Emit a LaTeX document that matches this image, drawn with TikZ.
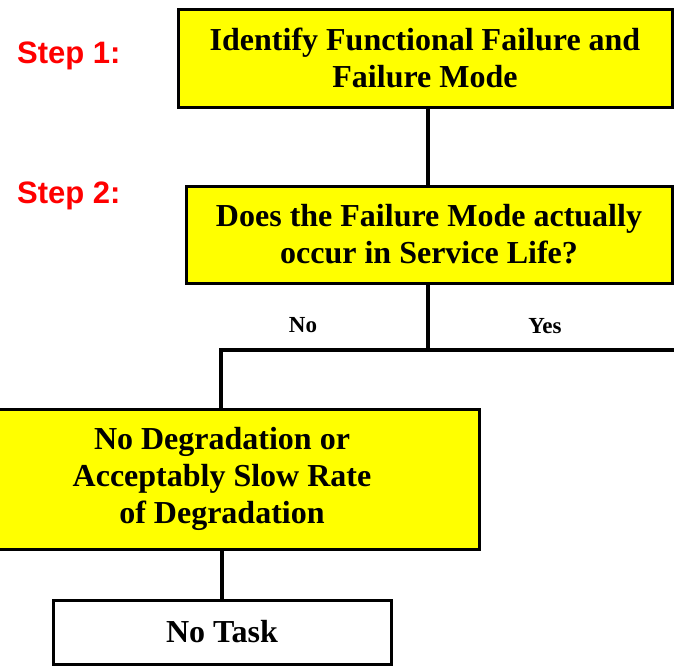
\documentclass[tikz,border=0pt]{standalone}
\usepackage{fontspec}
\setmainfont{Liberation Serif}
\newfontfamily\stepfont{Liberation Sans}
\definecolor{boxyellow}{RGB}{255,255,0}
\definecolor{stepred}{RGB}{255,0,0}
\begin{document}
\begin{tikzpicture}[x=1pt,y=-1pt,
  box/.style={draw=black,line width=3pt,rectangle,inner sep=0pt,align=center,
    font=\fontsize{32}{37}\selectfont\bfseries},
  ybox/.style={box,fill=boxyellow},
  wbox/.style={box,fill=white},
  conn/.style={line width=4pt},
  steplbl/.style={font=\stepfont\fontsize{31}{34}\selectfont\bfseries,text=stepred,anchor=base west,inner sep=0pt},
  lbl/.style={font=\fontsize{23}{26}\selectfont\bfseries,anchor=base,inner sep=0pt}]
\useasboundingbox (0,0) rectangle (674,667);
\clip (0,0) rectangle (674,667);
\node[ybox,minimum width=494pt,minimum height=98pt] (b1) at (425,58) {Identify Functional Failure and\\Failure Mode};
\node[ybox,minimum width=486pt,minimum height=97pt] (b2) at (429,234.5) {Does the Failure Mode actually\\occur in Service Life?};
\node[ybox,minimum width=514pt,minimum height=140pt] (b3) at (222,479) {No Degradation or\\Acceptably Slow Rate\\of Degradation};
\node[wbox,minimum width=338pt,minimum height=64pt] (b4) at (222,632) {No Task};
\node[steplbl] (s1) at (17,63) {Step 1:};
\node[steplbl] (s2) at (17,203) {Step 2:};
\node[lbl] (no) at (303,332) {No};
\node[lbl] (yes) at (545,333) {Yes};
\coordinate (j) at (428,350);
\coordinate (jl) at (221,350);
\coordinate (jr) at (680,350);
\draw[conn] (b1.south -| j) -- (b2.north -| j);
\draw[conn] (b2.south -| j) -- (j);
\draw[conn] (jr) -- (jl) -- (jl |- b3.north);
\draw[conn] (b3.south -| b4.north) -- (b4.north);
\end{tikzpicture}
\end{document}
